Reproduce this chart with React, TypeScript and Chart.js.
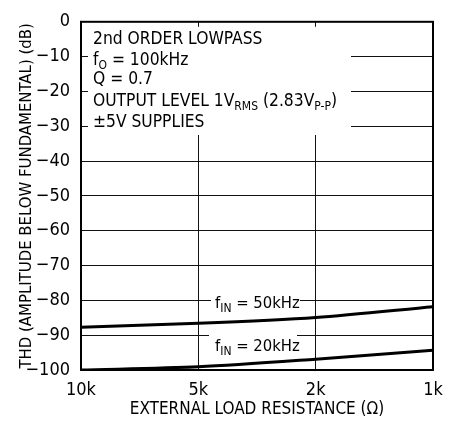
import React, { useEffect, useRef } from "react";
import { Chart, registerables } from "chart.js";

Chart.register(...registerables);

const xLabels = ["10k", "5k", "2k", "1k"];
const xPos = [0, 1, 2, 3];
const thd50k = [-87.7, -86.6, -84.9, -81.8];
const thd20k = [-100, -99.1, -96.9, -94.3];
const yTicks = [0, -10, -20, -30, -40, -50, -60, -70, -80, -90, -100];

const FONT = "'Liberation Sans Narrow', 'DejaVu Sans Condensed', 'Liberation Sans', sans-serif";

type Seg = [string, boolean?];

function drawRich(ctx: CanvasRenderingContext2D, x: number, y: number, segs: Seg[], size: number) {
  let cx = x;
  ctx.textBaseline = "alphabetic";
  ctx.textAlign = "left";
  for (const [t, sub] of segs) {
    ctx.font = `${sub ? Math.round(size * 0.72) : size}px ${FONT}`;
    ctx.fillText(t, cx, sub ? y + 4 : y);
    cx += ctx.measureText(t).width;
  }
}

const overlay = {
  id: "overlay",
  beforeDatasetsDraw(chart: any) {
    const ctx: CanvasRenderingContext2D = chart.ctx;
    const a = chart.chartArea;
    ctx.save();
    ctx.fillStyle = "#fff";
    // annotation block mask
    ctx.fillRect(a.left + 7, a.top + 5, 351 - (a.left + 7), 135 - (a.top + 5));
    // curve label masks
    ctx.fillRect(211, 294, 89, 22);
    ctx.fillRect(209, 327, 88, 22);
    ctx.fillStyle = "#000";
    const s = 17.3;
    drawRich(ctx, 93, 44, [["2nd ORDER LOWPASS"]], s);
    drawRich(ctx, 93, 64.5, [["f"], ["O", true], [" = 100kHz"]], s);
    drawRich(ctx, 93, 84, [["Q = 0.7"]], s);
    drawRich(ctx, 93, 106, [["OUTPUT LEVEL 1V"], ["RMS", true], [" (2.83V"], ["P-P", true], [")"]], s);
    drawRich(ctx, 93, 127, [["\u00B15V SUPPLIES"]], s);
    drawRich(ctx, 215, 308, [["f"], ["IN", true], [" = 50kHz"]], 16.5);
    drawRich(ctx, 215, 351, [["f"], ["IN", true], [" = 20kHz"]], 16.5);
    ctx.restore();
  },
  afterDraw(chart: any) {
    const ctx: CanvasRenderingContext2D = chart.ctx;
    const a = chart.chartArea;
    ctx.save();
    ctx.strokeStyle = "#000";
    ctx.lineWidth = 2;
    ctx.strokeRect(a.left, a.top, a.right - a.left, a.bottom - a.top);
    ctx.restore();
  },
};

export default function App() {
  const ref = useRef<HTMLCanvasElement>(null);
  useEffect(() => {
    if (!ref.current) return;
    const chart = new Chart(ref.current, {
      type: "line",
      data: {
        datasets: [
          {
            label: "fIN = 50kHz",
            data: xPos.map((x, i) => ({ x, y: thd50k[i] })),
            borderColor: "#000",
            borderWidth: 3,
            pointRadius: 0,
            tension: 0.3,
          },
          {
            label: "fIN = 20kHz",
            data: xPos.map((x, i) => ({ x, y: thd20k[i] })),
            borderColor: "#000",
            borderWidth: 3,
            pointRadius: 0,
            tension: 0.3,
          },
        ],
      },
      options: {
        animation: false,
        responsive: false,
        layout: { padding: { top: 19, right: 28, left: 0, bottom: 0 } },
        plugins: { legend: { display: false }, tooltip: { enabled: false } },
        scales: {
          x: {
            type: "linear",
            min: 0,
            max: 3,
            afterFit: (s: any) => { s.height = 53; },
            afterBuildTicks: (s: any) => { s.ticks = xPos.map((v) => ({ value: v })); },
            ticks: {
              callback: (v: any) => xLabels[Math.round(Number(v))] ?? "",
              color: "#000",
              font: { family: FONT, size: 18 },
              padding: 10,
              maxRotation: 0,
            },
            grid: { color: "#111", lineWidth: 1, drawTicks: false },
            border: { display: false },
            title: {
              display: true,
              text: "EXTERNAL LOAD RESISTANCE (\u03A9)",
              color: "#000",
              font: { family: FONT, size: 17 },
              padding: { top: 0, bottom: 3 },
            },
          },
          y: {
            type: "linear",
            min: -100,
            max: 0,
            afterFit: (s: any) => { s.width = 81; },
            afterBuildTicks: (s: any) => { s.ticks = yTicks.map((v) => ({ value: v })); },
            ticks: {
              callback: (v: any) => (Number(v) === 0 ? "0" : "\u2212" + Math.abs(Number(v))),
              color: "#000",
              font: { family: FONT, size: 18 },
              padding: 11,
            },
            grid: { color: "#111", lineWidth: 1, drawTicks: false },
            border: { display: false },
            title: {
              display: true,
              text: "THD (AMPLITUDE BELOW FUNDAMENTAL) (dB)",
              color: "#000",
              font: { family: FONT, size: 16.6 },
              padding: { top: 17, bottom: 0 },
            },
          },
        },
      },
      plugins: [overlay],
    } as any);
    return () => chart.destroy();
  }, []);
  return (
    <div style={{ position: "fixed", left: 0, top: 0, width: 461, height: 423, background: "#fff" }}>
      <canvas ref={ref} width={461} height={423} style={{ display: "block" }} />
    </div>
  );
}
